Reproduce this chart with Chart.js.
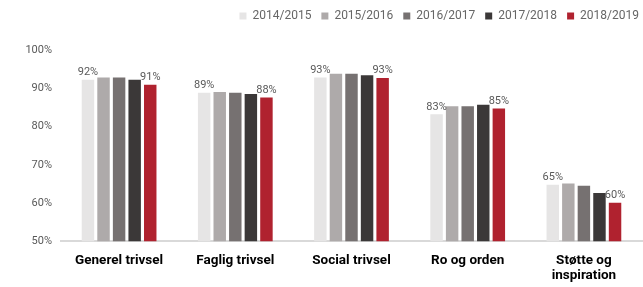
<!DOCTYPE html>
<html>
<head>
<meta charset="utf-8">
<script src="https://cdn.jsdelivr.net/npm/chart.js@4"></script>
<style>
  html, body { margin: 0; padding: 0; background: #fff; }
  #wrap { width: 643px; height: 287px; }
</style>
</head>
<body>
<div id="wrap"><canvas id="barChart"></canvas></div>
<script>
// data
const categories = ['Generel trivsel', 'Faglig trivsel', 'Social trivsel', 'Ro og orden', ['Støtte og', 'inspiration']];
const years = ['2014/2015', '2015/2016', '2016/2017', '2017/2018', '2018/2019'];
const v2014 = [92.2, 88.8, 92.8, 83.2, 64.8];
const v2015 = [92.8, 89.0, 93.8, 85.3, 65.1];
const v2016 = [92.8, 88.8, 93.8, 85.3, 64.5];
const v2017 = [92.2, 88.5, 93.4, 85.7, 62.6];
const v2018 = [90.9, 87.6, 92.7, 84.7, 60.1];
const yTicks = [50, 60, 70, 80, 90, 100];

const colors = ['#e6e5e5', '#aeaaaa', '#767171', '#3b3838', '#b0222f'];
const values = [v2014, v2015, v2016, v2017, v2018];
const labelledSeries = [0, 4];

const grey = '#595959';

// value labels above the first and last year only
const valueLabels = {
    id: 'valueLabels',
    afterDatasetsDraw(chart) {
        const ctx = chart.ctx;
        ctx.save();
        ctx.font = '11px Roboto';
        ctx.fillStyle = grey;
        ctx.textAlign = 'center';
        ctx.textBaseline = 'bottom';
        labelledSeries.forEach(function (i) {
            const meta = chart.getDatasetMeta(i);
            meta.data.forEach(function (bar, j) {
                const v = chart.data.datasets[i].data[j];
                ctx.fillText(Math.round(v) + '%', bar.x, bar.y - 2);
            });
        });
        ctx.restore();
    }
};

// extra room under the legend, and push it a bit further right
const legendSpace = {
    id: 'legendSpace',
    beforeInit(chart) {
        const fit = chart.legend.fit;
        chart.legend.fit = function () {
            fit.bind(chart.legend)();
            this.height += 18;
        };
    },
    beforeDraw(chart) {
        chart.legend.right = chart.width + 6;
    }
};

var bar = document.getElementById('barChart').getContext('2d');
var myChart = new Chart(bar, {
    type: 'bar',
    data: {
        labels: categories,
        datasets: years.map(function (y, i) {
            return {
                label: y,
                data: values[i],
                backgroundColor: colors[i],
                borderWidth: 0,
                categoryPercentage: 0.67,
                barPercentage: 0.8
            };
        })
    },
    options: {
        responsive: true,
        maintainAspectRatio: false,
        animation: false,
        layout: { padding: { top: 0, right: 1, bottom: 0, left: 0 } },
        plugins: {
            legend: {
                position: 'top',
                align: 'end',
                labels: {
                    boxWidth: 7,
                    boxHeight: 7,
                    color: '#666',
                    font: { family: 'Roboto', size: 12 },
                    padding: 10
                }
            },
            tooltip: { enabled: false }
        },
        scales: {
            x: {
                grid: { display: false },
                border: { display: true, color: '#d9d9d9', width: 2 },
                ticks: {
                    color: '#000',
                    font: { family: 'Roboto', size: 13.5, weight: 'bold', lineHeight: 1.1 },
                    padding: 4,
                    maxRotation: 0
                }
            },
            y: {
                min: 50,
                max: 100,
                afterBuildTicks(scale) {
                    scale.ticks = yTicks.map(function (v) { return { value: v }; });
                },
                afterFit(scale) { scale.width = 61; },
                grid: { display: false },
                border: { display: false },
                ticks: {
                    color: grey,
                    font: { family: 'Roboto', size: 11 },
                    padding: 1,
                    callback: function (v) { return v + '%'; }
                }
            }
        }
    },
    plugins: [valueLabels, legendSpace]
});
</script>
</body>
</html>
